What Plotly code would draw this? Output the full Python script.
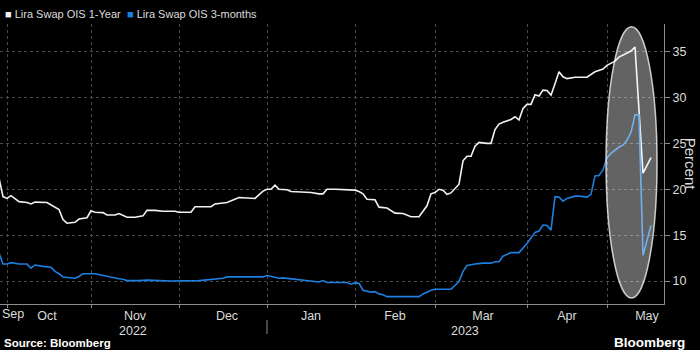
import plotly.graph_objects as go

# Lira Swap OIS 1-Year (percent)
one_year_dates = [
    "2022-09-29", "2022-09-30", "2022-10-03", "2022-10-04", "2022-10-06", "2022-10-10",
    "2022-10-11", "2022-10-12", "2022-10-17", "2022-10-19", "2022-10-20", "2022-10-21",
    "2022-10-24", "2022-10-26", "2022-10-27", "2022-10-31", "2022-11-01", "2022-11-02",
    "2022-11-04", "2022-11-07", "2022-11-09", "2022-11-10", "2022-11-14", "2022-11-16",
    "2022-11-18", "2022-11-21", "2022-11-23", "2022-11-25", "2022-11-30", "2022-12-01",
    "2022-12-06", "2022-12-07", "2022-12-13", "2022-12-14", "2022-12-16", "2022-12-19",
    "2022-12-22", "2022-12-28", "2022-12-30", "2023-01-02", "2023-01-03", "2023-01-04",
    "2023-01-05", "2023-01-09", "2023-01-10", "2023-01-13", "2023-01-17", "2023-01-19",
    "2023-01-20", "2023-01-23", "2023-01-25", "2023-02-01", "2023-02-02", "2023-02-03",
    "2023-02-06", "2023-02-08", "2023-02-09", "2023-02-13", "2023-02-15", "2023-02-17",
    "2023-02-21", "2023-02-23", "2023-02-24", "2023-02-27", "2023-02-28", "2023-03-01",
    "2023-03-02", "2023-03-03", "2023-03-06", "2023-03-07", "2023-03-09", "2023-03-10",
    "2023-03-13", "2023-03-14", "2023-03-15", "2023-03-16", "2023-03-20", "2023-03-21",
    "2023-03-22", "2023-03-23", "2023-03-24", "2023-03-28", "2023-03-29", "2023-03-30",
    "2023-03-31", "2023-04-03", "2023-04-04", "2023-04-05", "2023-04-06", "2023-04-07",
    "2023-04-10", "2023-04-11", "2023-04-12", "2023-04-13", "2023-04-14", "2023-04-17",
    "2023-04-19", "2023-04-24", "2023-04-26", "2023-04-28", "2023-05-01", "2023-05-03",
    "2023-05-04", "2023-05-08", "2023-05-09", "2023-05-10", "2023-05-12", "2023-05-16",
]
one_year_values = [
    21.2, 19.2, 19.0, 19.3, 18.65, 18.55,
    18.4, 18.6, 18.55, 18.1, 17.8, 16.7,
    16.3, 16.4, 16.75, 16.9, 17.65, 17.5,
    17.45, 17.2, 17.2, 17.35, 16.95, 16.95,
    17.1, 17.7, 17.7, 17.6, 17.6, 17.5,
    17.5, 18.1, 18.1, 18.4, 18.5, 18.55,
    19.1, 19.0, 19.8, 20.0, 20.0, 20.45,
    20.0, 19.95, 19.75, 19.65, 19.65, 19.5,
    19.5, 20.0, 20.0, 19.9, 19.75, 19.5,
    18.9, 18.85, 18.05, 17.95, 17.4, 17.35,
    17.0, 17.0, 17.55, 18.2, 19.5, 19.65,
    20.0, 19.9, 19.45, 19.6, 20.55, 23.1,
    23.6, 23.6, 24.7, 25.1, 25.0, 25.0,
    26.5, 27.1, 27.3, 27.6, 27.9, 27.55,
    28.8, 29.25, 29.25, 30.3, 30.15, 30.8,
    30.75, 30.25, 31.5, 32.8, 32.25, 32.05,
    32.2, 32.2, 32.8, 33.1, 33.5, 33.95,
    34.4, 34.8, 35.05, 35.5, 21.75, 23.45,
]

# Lira Swap OIS 3-months (percent)
three_month_dates = [
    "2022-09-29", "2022-09-30", "2022-10-03", "2022-10-04", "2022-10-06", "2022-10-10",
    "2022-10-11", "2022-10-12", "2022-10-14", "2022-10-18", "2022-10-19", "2022-10-20",
    "2022-10-21", "2022-10-24", "2022-10-26", "2022-10-27", "2022-10-28", "2022-11-02",
    "2022-11-03", "2022-11-08", "2022-11-10", "2022-11-11", "2022-11-14", "2022-11-17",
    "2022-11-21", "2022-11-24", "2022-11-29", "2022-12-08", "2022-12-13", "2022-12-16",
    "2022-12-19", "2022-12-30", "2023-01-02", "2023-01-03", "2023-01-04", "2023-01-05",
    "2023-01-06", "2023-01-10", "2023-01-12", "2023-01-16", "2023-01-18", "2023-01-19",
    "2023-01-20", "2023-01-23", "2023-01-30", "2023-01-31", "2023-02-01", "2023-02-02",
    "2023-02-03", "2023-02-07", "2023-02-08", "2023-02-09", "2023-02-10", "2023-02-13",
    "2023-02-23", "2023-02-24", "2023-02-28", "2023-03-01", "2023-03-07", "2023-03-08",
    "2023-03-09", "2023-03-10", "2023-03-13", "2023-03-15", "2023-03-17", "2023-03-21",
    "2023-03-22", "2023-03-23", "2023-03-24", "2023-03-28", "2023-03-30", "2023-04-03",
    "2023-04-04", "2023-04-05", "2023-04-06", "2023-04-07", "2023-04-10", "2023-04-11",
    "2023-04-12", "2023-04-13", "2023-04-14", "2023-04-17", "2023-04-19", "2023-04-20",
    "2023-04-24", "2023-04-25", "2023-04-26", "2023-04-27", "2023-04-28", "2023-05-01",
    "2023-05-02", "2023-05-03", "2023-05-04", "2023-05-05", "2023-05-08", "2023-05-09",
    "2023-05-10", "2023-05-11", "2023-05-12", "2023-05-16",
]
three_month_values = [
    13.05, 11.85, 11.85, 12.0, 11.85, 11.85,
    11.4, 11.75, 11.6, 11.5, 11.05, 10.8,
    10.45, 10.4, 10.3, 10.5, 10.8, 10.8,
    10.7, 10.45, 10.25, 10.2, 10.05, 10.05,
    10.1, 10.05, 10.0, 10.05, 10.2, 10.3,
    10.45, 10.45, 10.6, 10.5, 10.45, 10.3,
    10.35, 10.25, 10.15, 10.05, 9.9, 9.9,
    10.05, 9.85, 9.85, 9.65, 9.8, 9.75,
    9.0, 8.8, 8.85, 8.6, 8.5, 8.3,
    8.3, 8.6, 9.0, 9.1, 9.1, 9.5,
    9.95, 11.05, 11.7, 11.85, 11.95, 11.95,
    12.1, 12.1, 12.7, 13.1, 13.1, 14.1,
    14.65, 15.3, 15.45, 16.1, 16.05, 15.55,
    19.2, 19.15, 18.7, 19.0, 19.25, 19.25,
    19.15, 19.45, 21.45, 21.5, 22.1, 23.45,
    23.9, 24.25, 24.6, 24.8, 25.35, 26.2,
    28.1, 28.1, 12.8, 16.05,
]

series_names = ["Lira Swap OIS 1-Year", "Lira Swap OIS 3-months"]
series_colors = ["#f2f2f2", "#1d7fe0"]

month_labels = ["Oct", "Nov", "Dec", "Jan", "Feb", "Mar", "Apr", "May"]
month_label_dates = ["2022-10-17", "2022-11-16", "2022-12-19", "2023-01-17",
                     "2023-02-15", "2023-03-17", "2023-04-17", "2023-05-15"]
first_month_label = "Sep"
month_starts = ["2022-10-03", "2022-11-01", "2022-12-01", "2023-01-02", "2023-02-01",
                "2023-03-01", "2023-04-03", "2023-05-01"]
year_labels = ["2022", "2023"]
y_ticks = [10, 15, 20, 25, 30, 35]

FONT = "Liberation Sans, Arial, sans-serif"
TEXT = "#dcdcdc"
AXIS = "#8c8c8c"
GRID = "#4a4a4a"

fig = go.Figure()
fig.add_trace(go.Scatter(x=one_year_dates, y=one_year_values, mode="lines",
                         name=series_names[0], line=dict(color=series_colors[0], width=1.6)))
fig.add_trace(go.Scatter(x=three_month_dates, y=three_month_values, mode="lines",
                         name=series_names[1], line=dict(color=series_colors[1], width=1.6)))

fig.update_layout(
    width=700, height=350,
    margin=dict(l=0, r=36, t=24, b=46),
    paper_bgcolor="black", plot_bgcolor="black",
    showlegend=False,
    font=dict(family=FONT, color=TEXT),
    xaxis=dict(
        type="date",
        range=["2022-09-29 06:00", "2023-05-19 06:00"],
        rangebreaks=[dict(bounds=["sat", "mon"])],
        tickmode="array", tickvals=month_label_dates, ticktext=month_labels,
        ticks="", showgrid=False, zeroline=False,
        showline=True, linecolor=AXIS, linewidth=1,
        tickfont=dict(size=12.5, color=TEXT, family=FONT),
        minor=dict(tickmode="array", tickvals=month_starts, showgrid=True,
                   gridcolor=GRID, griddash="dot", gridwidth=1,
                   ticks="outside", ticklen=3, tickcolor=AXIS),
    ),
    yaxis=dict(
        side="right", range=[7.5, 38],
        tickmode="array", tickvals=y_ticks,
        ticks="outside", ticklen=5, tickcolor=AXIS,
        showgrid=True, gridcolor=GRID, griddash="dot", gridwidth=1,
        showline=True, linecolor=AXIS, linewidth=1, zeroline=False,
        tickfont=dict(size=12.5, color=TEXT, family=FONT),
    ),
)

# partial first month, labelled at the left edge of the plot
fig.add_annotation(xref="paper", yref="paper", x=0.0, y=-0.034, xanchor="left", yanchor="middle",
                   text=first_month_label, showarrow=False,
                   font=dict(size=12.5, color=TEXT, family=FONT))

# legend row
legend_x = [0.004, 0.189]
for name, color, lx in zip(series_names, series_colors, legend_x):
    fig.add_annotation(
        xref="paper", yref="paper", x=lx, y=1.036, xanchor="left", yanchor="middle",
        text=f"<span style='color:{color}'>■</span> {name}", showarrow=False,
        font=dict(size=11, color=TEXT, family=FONT),
    )

# axis title on the right, reading downward
fig.add_annotation(xref="paper", yref="paper", x=1.041, y=0.5, text="Percent",
                   textangle=90, showarrow=False, xanchor="center", yanchor="middle",
                   font=dict(size=15, color=TEXT, family=FONT))

# year labels under the month labels, with a divider at the year change
for label, yx in zip(year_labels, [0.2003, 0.7003]):
    fig.add_annotation(xref="paper", yref="paper", x=yx, y=-0.096, text=label,
                       showarrow=False, xanchor="center", yanchor="middle",
                       font=dict(size=12.5, color=TEXT, family=FONT))
fig.add_shape(type="line", xref="x", yref="paper", x0=month_starts[3], x1=month_starts[3],
              y0=-0.057, y1=-0.107, line=dict(color=AXIS, width=1))

# highlight around the post-election move
fig.add_shape(type="circle", xref="paper", yref="y", x0=0.9127, x1=0.9895, y0=8.15, y1=37.7,
              fillcolor="rgba(255,255,255,0.39)", line=dict(color="rgba(255,255,255,0.75)", width=1.5),
              layer="above")

# footer
fig.add_annotation(xref="paper", yref="paper", x=0.003, y=-0.139, xanchor="left", yanchor="middle",
                   text="<b>Source: Bloomberg</b>", showarrow=False,
                   font=dict(size=11.5, color="white", family=FONT))
fig.add_annotation(xref="paper", yref="paper", x=0.922, y=-0.136, xanchor="left", yanchor="middle",
                   text="<b>Bloomberg</b>", showarrow=False,
                   font=dict(size=13.5, color="white", family=FONT))

fig.write_html("out.html")
